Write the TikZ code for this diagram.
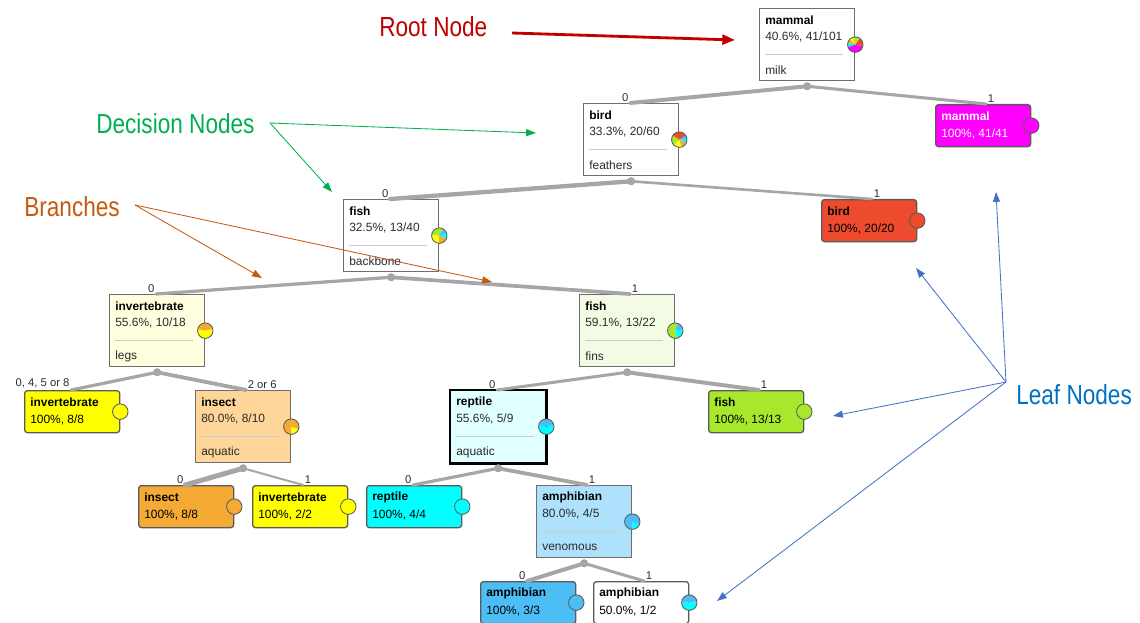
\documentclass[tikz,border=0pt]{standalone}
\usepackage{fontspec}
\setmainfont{Liberation Sans}
\newfontfamily\notefont[FakeStretch=0.82]{Liberation Sans}
\usetikzlibrary{arrows.meta,calc}

\definecolor{mammalc}{HTML}{FF00FF}
\definecolor{birdc}{HTML}{EE4A2E}
\definecolor{fishc}{HTML}{A8E82C}
\definecolor{invc}{HTML}{FFFF00}
\definecolor{insc}{HTML}{F5AA35}
\definecolor{repc}{HTML}{00FFFF}
\definecolor{amphc}{HTML}{4CBEF5}
\definecolor{invlight}{HTML}{FFFFE0}
\definecolor{fishlight}{HTML}{F3FBE4}
\definecolor{inslight}{HTML}{FFD699}
\definecolor{replight}{HTML}{E0FFFF}
\definecolor{amphlight}{HTML}{AEE1FC}
\definecolor{boxgray}{HTML}{6E6E6E}
\definecolor{leafedge}{HTML}{5A5A5A}
\definecolor{branchgray}{HTML}{A6A6A6}
\definecolor{textgray}{HTML}{2B2B2B}
\definecolor{rootred}{HTML}{C00000}
\definecolor{decgreen}{HTML}{00B050}
\definecolor{branchorange}{HTML}{C55A11}
\definecolor{leafblue}{HTML}{0070C0}
\definecolor{leafarrow}{HTML}{4472C4}

\begin{document}
\begin{tikzpicture}[x=0.025cm, y=-0.025cm, font=\fontsize{8.5}{10}\selectfont,
    decbox/.style={draw=boxgray, line width=0.9pt, minimum width=2.375cm, minimum height=1.8cm, anchor=north west, inner sep=0pt},
    leafbox/.style={draw=leafedge, line width=0.9pt, rounded corners=2pt, minimum width=2.375cm, minimum height=1.05cm, anchor=north west, inner sep=0pt},
    clstext/.style={anchor=west, inner sep=0pt, font=\fontsize{8.5}{10}\selectfont\bfseries},
    stattext/.style={anchor=west, inner sep=0pt, text=textgray},
    divider/.style={draw=black!20, line width=0.7pt},
    edgelabel/.style={inner sep=1pt, font=\fontsize{8}{9.6}\selectfont, text=textgray},
    branch/.style={draw=branchgray, line cap=round},
    pieedge/.style={draw=leafedge, line width=0.6pt},
    notetext/.style={anchor=west, inner sep=0pt, font=\notefont\fontsize{19.6}{22}\selectfont},
    notearrow/.style={-{Triangle[length=7pt, width=5pt]}, line width=0.6pt}
]
    \useasboundingbox (0,0) rectangle (1140,623);

    % Decision nodes: class, share, split attribute
    \foreach \n/\x/\y/\col/\cls/\pc/\hit/\tot/\attr in {
        root/759/8/white/mammal/40.6/41/101/milk,
        bird/583/103/white/bird/33.3/20/60/feathers,
        fish/343/199/white/fish/32.5/13/40/backbone,
        inv/109/294/invlight/invertebrate/55.6/10/18/legs,
        fishb/579/294/fishlight/fish/59.1/13/22/fins,
        ins/195/390/inslight/insect/80.0/8/10/aquatic,
        rep/450/390/replight/reptile/55.6/5/9/aquatic,
        amph/536/485/amphlight/amphibian/80.0/4/5/venomous} {
        \node[decbox, fill=\col] (\n) at (\x,\y) {};
        \node[clstext] (\n-cls) at ($(\n.north west)+(6,12)$) {\cls};
        \node[stattext] (\n-stat) at ($(\n.north west)+(6,29)$) {\pc\%, \hit/\tot};
        \draw[divider] ($(\n.north west)+(6,46)$) -- ($(\n.north west)+(84,46)$);
        \node[stattext] (\n-attr) at ($(\n.north west)+(6,62)$) {\attr};
    }
    \draw[line width=2pt, black] (rep.north west) rectangle (rep.south east);

    % Leaf nodes
    \foreach \n/\x/\y/\col/\txt/\cls/\pc/\hit/\tot in {
        mamleaf/935/104/mammalc/white/mammal/100/41/41,
        birdleaf/821/199/birdc/black/bird/100/20/20,
        invleaf/24/390/invc/black/invertebrate/100/8/8,
        fishleaf/708/390/fishc/black/fish/100/13/13,
        insleaf/138/485/insc/black/insect/100/8/8,
        invleafb/252/485/invc/black/invertebrate/100/2/2,
        repleaf/366/485/repc/black/reptile/100/4/4,
        amphleaf/480/581/amphc/black/amphibian/100/3/3,
        amphleafb/593/581/white/black/amphibian/50.0/1/2} {
        \node[leafbox, fill=\col] (\n) at (\x,\y) {};
        \node[clstext, text=\txt] (\n-cls) at ($(\n.north west)+(6,12)$) {\cls};
        \node[stattext, text=\txt] (\n-stat) at ($(\n.north west)+(6,30)$) {\pc\%, \hit/\tot};
    }

    % Branch lines from the dot under a parent to the top of its child
    \foreach \p/\ch/\w/\lab/\dx/\anc in {
        root/bird/0.59/0/-1/south east, root/mamleaf/0.41/1/3/south west,
        bird/fish/0.67/0/-1/south east, bird/birdleaf/0.33/1/3/south west,
        fish/inv/0.45/0/-1/south east, fish/fishb/0.55/1/3/south west,
        inv/invleaf/0.44/{0, 4, 5 or 8}/-1/south east, inv/ins/0.56/{2 or 6}/3/south west,
        fishb/rep/0.41/0/-1/south east, fishb/fishleaf/0.59/1/3/south west,
        ins/insleaf/0.8/0/-1/south east, ins/invleafb/0.2/1/3/south west,
        rep/repleaf/0.44/0/-1/south east, rep/amph/0.56/1/3/south west,
        amph/amphleaf/0.6/0/-1/south east, amph/amphleafb/0.4/1/3/south west} {
        \coordinate (\p-dot) at ($(\p.south)+(0,5)$);
        \coordinate (\ch-in) at ($(\ch.north)+(\dx,0)$);
        \draw[branch, line width={(1+5*\w)*0.71pt}] (\p-dot) -- (\ch-in);
        \node[edgelabel, anchor=\anc] (\ch-lab) at (\ch-in) {\lab};
        \fill[branchgray] (\p-dot) circle[radius=2.8pt];
    }

    % Class distribution pies on the right edge
    \foreach \n/\slices in {
        root/{200/346/mammalc, 346/417/birdc, 417/463/fishc, 463/499/invc, 499/528/insc, 528/546/repc, 546/560/amphc},
        bird/{30/150/birdc, 150/228/fishc, 228/288/invc, 288/336/insc, 336/366/repc, 366/390/amphc},
        fish/{60/177/fishc, 177/267/invc, 267/339/insc, 339/384/repc, 384/420/amphc},
        inv/{10/170/insc, 170/370/invc},
        fishb/{74/287/fishc, 287/369/repc, 369/434/amphc},
        ins/{270/342/invc, 342/630/insc},
        rep/{10/170/amphc, 170/370/repc},
        amph/{270/342/repc, 342/630/amphc},
        amphleafb/{0/180/amphc, 180/360/repc},
        mamleaf/{0/360/mammalc}, birdleaf/{0/360/birdc}, invleaf/{0/360/invc},
        fishleaf/{0/360/fishc}, insleaf/{0/360/insc}, invleafb/{0/360/invc},
        repleaf/{0/360/repc}, amphleaf/{0/360/amphc}} {
        \foreach \a/\b/\clr in \slices {
            \fill[\clr] (\n.east) -- +(\a:5.5pt) arc[start angle=\a, end angle=\b, radius=5.5pt] -- cycle;
        }
        \draw[pieedge] (\n.east) circle[radius=5.5pt];
    }

    % Annotations
    \node[notetext, text=rootred] (rootnote) at (379,27) {Root Node};
    \node[notetext, text=decgreen] (decnote) at (96,124) {Decision Nodes};
    \node[notetext, text=branchorange] (branchnote) at (24,207) {Branches};
    \node[notetext, text=leafblue] (leafnote) at (1016,395) {Leaf Nodes};

    \coordinate (rootfrom) at (512,33);
    \coordinate (rootto) at (735,40);
    \draw[notearrow, rootred, line width=2pt, -{Triangle[length=9pt, width=7pt]}] (rootfrom) -- (rootto);

    \coordinate (decfrom) at (270,123);
    \draw[notearrow, decgreen] (decfrom) -- (536,133);
    \draw[notearrow, decgreen] (decfrom) -- (332,192);

    \coordinate (branchfrom) at (135,205);
    \draw[notearrow, branchorange] (branchfrom) -- (262,278);
    \draw[notearrow, branchorange] (branchfrom) -- (492,282);

    \coordinate (leaffrom) at (1006,382);
    \foreach \tx/\ty in {996/192, 916/268, 833/416, 717/601} {
        \draw[notearrow, leafarrow] (leaffrom) -- (\tx,\ty);
    }
\end{tikzpicture}
\end{document}
